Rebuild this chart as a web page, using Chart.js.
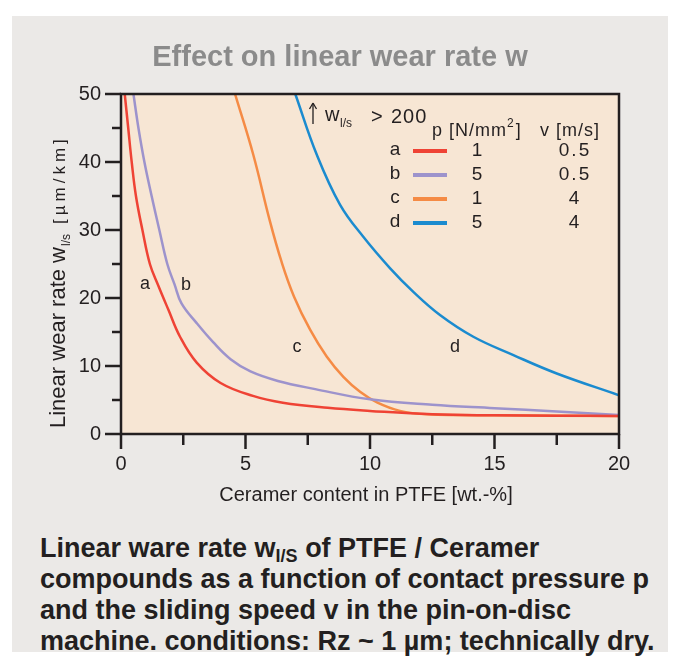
<!DOCTYPE html>
<html lang="en">
<head>
<meta charset="UTF-8">
<title>Effect on linear wear rate w</title>
<script src="https://cdn.jsdelivr.net/npm/chart.js"></script>
<style>
  body { margin: 0; background: #fff; font-family: "Liberation Sans", Arial, sans-serif; }
  .panel { position: absolute; left: 12px; top: 16px; width: 656px; height: 636px; background: #ebe9e7; }
  canvas { position: absolute; left: 0; top: 0; }
  h1 { position: absolute; left: 12px; top: 40px; width: 656px; margin: 0; text-align: center;
       font-size: 29px; font-weight: bold; color: #8b8b8b; }
  .caption { position: absolute; left: 40px; top: 533px; width: 630px; margin: 0;
             font-size: 27px; font-weight: bold; line-height: 31px; color: #231f20; }
  .caption sub { font-size: 18px; vertical-align: -5px; line-height: 0; }
</style>
</head>
<body>
<div class="panel"></div>
<canvas id="wear" width="673" height="520"></canvas>
<h1>Effect on linear wear rate w</h1>
<p class="caption">Linear ware rate w<sub>I/S</sub> of PTFE / Ceramer<br>compounds as a function of contact pressure p<br>and the sliding speed v in the pin-on-disc<br>machine. conditions: Rz ~ 1 µm; technically dry.</p>

<script>
  // curves: ceramer content [wt.-%] vs wear rate [µm/km]
  const aX = [0.15, 0.29, 0.43, 0.6, 0.86, 1.16, 1.5, 1.9, 2.37, 3.04, 4.0, 5.3, 6.5, 8.3, 10, 12.5, 15, 17.5, 20];
  const aY = [50, 45, 40, 35, 30, 25, 21.8, 18.3, 14.3, 10.5, 7.5, 5.6, 4.6, 3.85, 3.4, 2.9, 2.75, 2.7, 2.65];
  const bX = [0.5, 0.7, 0.94, 1.23, 1.54, 1.86, 2.15, 2.43, 3.04, 3.7, 4.4, 5.2, 6.3, 7.8, 10, 12.5, 15, 17.5, 20];
  const bY = [50, 45, 40, 35, 30, 25, 22, 19.2, 16.3, 13.5, 11.0, 9.2, 7.8, 6.6, 5.1, 4.3, 3.8, 3.3, 2.8];
  const cX = [4.58, 5.31, 5.98, 6.45, 6.95, 7.6, 8.26, 8.93, 9.6, 10.3, 11.2, 12.3, 15, 20];
  const cY = [50, 41.1, 31.3, 25.3, 20.2, 15.3, 11.4, 8.4, 6.2, 4.6, 3.4, 2.9, 2.75, 2.65];
  const dX = [7.0, 7.86, 8.8, 9.73, 10.8, 11.74, 12.81, 14.15, 15.76, 17.5, 20];
  const dY = [50, 41.1, 33.7, 29.0, 24.4, 20.9, 17.5, 14.3, 11.6, 8.9, 5.7];

  const names = ['a', 'b', 'c', 'd'];
  const pressure = ['1', '5', '1', '5'];
  const speed = ['0.5', '0.5', '4', '4'];
  const colors = ['#ef4335', '#9d93cc', '#f58b45', '#1b8bcf'];
  // where the letters sit next to their curves (data units)
  const labelX = [0.96, 2.61, 7.07, 13.41];
  const labelY = [22.1, 21.9, 12.8, 12.8];

  const xMajor = [0, 5, 10, 15, 20];
  const xMinor = [2.5, 7.5, 12.5, 17.5];
  const yMajor = [0, 10, 20, 30, 40, 50];
  const yMinor = [5, 15, 25, 35, 45];

  const ink = '#231f20';
  const font = '"Liberation Sans", Arial, sans-serif';

  function pts(xs, ys) {
    return xs.map((x, i) => ({ x: x, y: ys[i] }));
  }

  function seg(ctx, x1, y1, x2, y2) {
    ctx.beginPath();
    ctx.moveTo(x1, y1);
    ctx.lineTo(x2, y2);
    ctx.stroke();
  }

  const decor = {
    id: 'decor',
    beforeDatasetsDraw(chart) {
      const { ctx, chartArea: a } = chart;
      ctx.save();
      ctx.fillStyle = '#f7e6d4';
      ctx.fillRect(a.left, a.top, a.right - a.left, a.bottom - a.top);
      ctx.restore();
    },
    afterDraw(chart) {
      const { ctx, chartArea: a, scales: { x, y } } = chart;
      ctx.save();
      ctx.strokeStyle = ink;
      ctx.lineWidth = 2.5;
      ctx.strokeRect(a.left, a.top, a.right - a.left, a.bottom - a.top);

      yMajor.forEach(v => seg(ctx, a.left - 16, y.getPixelForValue(v), a.left, y.getPixelForValue(v)));
      yMinor.forEach(v => seg(ctx, a.left - 9, y.getPixelForValue(v), a.left, y.getPixelForValue(v)));
      xMajor.forEach(v => seg(ctx, x.getPixelForValue(v), a.bottom, x.getPixelForValue(v), a.bottom + 15));
      xMinor.forEach(v => seg(ctx, x.getPixelForValue(v), a.bottom, x.getPixelForValue(v), a.bottom + 11));

      ctx.fillStyle = ink;
      ctx.textBaseline = 'alphabetic';

      // x title
      ctx.font = '20px ' + font;
      ctx.textAlign = 'center';
      ctx.fillText('Ceramer content in PTFE [wt.-%]', 366, 501);

      // y title, rotated, with subscript
      ctx.save();
      ctx.translate(65, 428);
      ctx.rotate(-Math.PI / 2);
      ctx.textAlign = 'left';
      ctx.font = '22px ' + font;
      const main = 'Linear wear rate w';
      ctx.fillText(main, 0, 0);
      let off = ctx.measureText(main).width + 1;
      ctx.font = '12px ' + font;
      ctx.fillText('l/s', off, 5);
      off += ctx.measureText('l/s').width + 10;
      ctx.font = '17px ' + font;
      ctx.letterSpacing = '4px';
      ctx.fillText('[µm/km]', off, 0);
      ctx.letterSpacing = '0px';
      ctx.restore();

      // curve letters
      ctx.font = '18px ' + font;
      ctx.textAlign = 'center';
      ctx.textBaseline = 'middle';
      names.forEach((n, i) => ctx.fillText(n, x.getPixelForValue(labelX[i]), y.getPixelForValue(labelY[i])));

      // legend table
      ctx.lineWidth = 1.3;
      seg(ctx, 313, 124, 313, 104);
      seg(ctx, 309.5, 109, 313, 103);
      seg(ctx, 316.5, 109, 313, 103);
      ctx.textAlign = 'left';
      ctx.textBaseline = 'alphabetic';
      ctx.font = '20px ' + font;
      ctx.fillText('w', 325, 121);
      ctx.font = '12px ' + font;
      ctx.fillText('l/s', 340, 127);
      ctx.font = '20px ' + font;
      ctx.fillText('>', 371, 123);
      ctx.letterSpacing = '1px';
      ctx.fillText('200', 391, 123);

      ctx.font = '18px ' + font;
      ctx.fillText('p [N/mm', 432, 136);
      let px = 432 + ctx.measureText('p [N/mm').width;
      ctx.font = '12px ' + font;
      ctx.fillText('2', px, 127);
      px += ctx.measureText('2').width + 1;
      ctx.font = '18px ' + font;
      ctx.fillText(']', px, 136);
      ctx.fillText('v [m/s]', 540, 136);
      ctx.letterSpacing = '0px';

      const rowY = [151, 175, 199, 223];
      ctx.textAlign = 'center';
      ctx.textBaseline = 'middle';
      names.forEach((n, i) => {
        ctx.fillStyle = ink;
        ctx.font = '19px ' + font;
        ctx.fillText(n, 395, rowY[i] - 1);
        ctx.fillText(pressure[i], 477, rowY[i]);
        ctx.letterSpacing = '2px';
        ctx.fillText(speed[i], 575, rowY[i]);
        ctx.letterSpacing = '0px';
        ctx.strokeStyle = colors[i];
        ctx.lineWidth = 4;
        seg(ctx, 413, rowY[i], 447, rowY[i]);
      });
      ctx.restore();
    }
  };

  new Chart(document.getElementById('wear'), {
    type: 'line',
    data: {
      datasets: names.map((n, i) => ({
        label: n,
        data: pts([aX, bX, cX, dX][i], [aY, bY, cY, dY][i]),
        borderColor: colors[i],
        borderWidth: 2.5,
        pointRadius: 0,
        fill: false,
        tension: 0.4
      }))
    },
    options: {
      responsive: false,
      animation: false,
      layout: { padding: { left: 0, top: 94, right: 54, bottom: 0 } },
      plugins: { legend: { display: false }, tooltip: { enabled: false } },
      scales: {
        x: {
          type: 'linear', min: 0, max: 20,
          afterFit: s => { s.height = 86; },
          grid: { display: false, drawTicks: false },
          border: { display: false },
          ticks: { stepSize: 5, padding: 18, color: ink, font: { size: 20, family: font } }
        },
        y: {
          min: 0, max: 50,
          afterFit: s => { s.width = 121; },
          grid: { display: false, drawTicks: false },
          border: { display: false },
          ticks: { stepSize: 10, padding: 20, color: ink, font: { size: 20, family: font } }
        }
      }
    },
    plugins: [decor]
  });
</script>
</body>
</html>
